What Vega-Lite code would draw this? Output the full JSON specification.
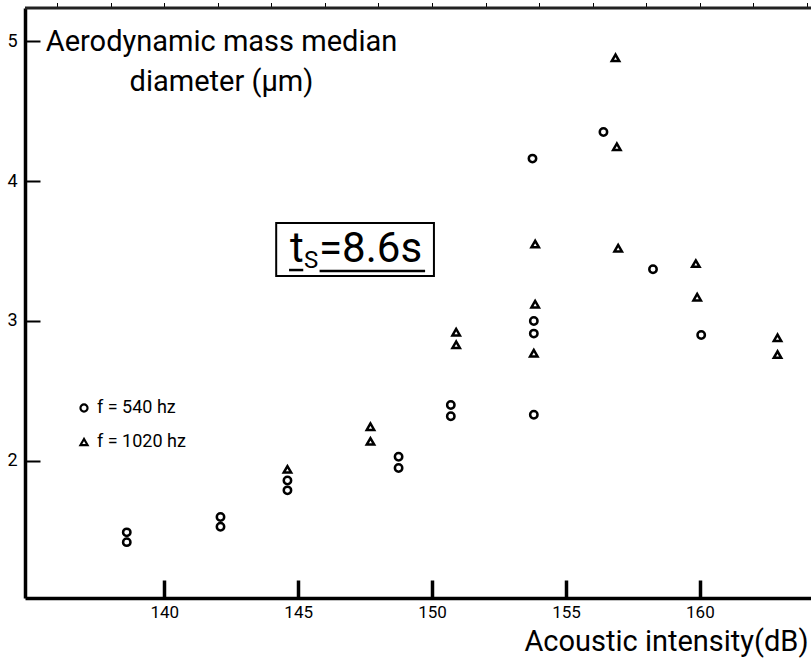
{
  "$schema": "https://vega.github.io/schema/vega-lite/v6.json",
  "autosize": {"type": "none"},
  "padding": {"left": 25, "top": 8, "right": 0, "bottom": 63},
  "width": 786,
  "height": 590,
  "background": "white",
  "view": {"stroke": null},
  "config": {
    "font": "Roboto",
    "axis": {"labelFont": "Roboto", "titleFont": "Roboto", "labelColor": "black", "titleColor": "black", "domainColor": "black", "tickColor": "black", "grid": false, "titleFontWeight": "normal"}
  },
  "resolve": {"axis": {"x": "independent", "y": "independent"}},
  "data": {
    "values": [
      {"intensity": 138.6, "ammd": 1.49, "freq": "f = 540 hz"},
      {"intensity": 138.6, "ammd": 1.42, "freq": "f = 540 hz"},
      {"intensity": 142.1, "ammd": 1.60, "freq": "f = 540 hz"},
      {"intensity": 142.1, "ammd": 1.53, "freq": "f = 540 hz"},
      {"intensity": 144.6, "ammd": 1.86, "freq": "f = 540 hz"},
      {"intensity": 144.6, "ammd": 1.79, "freq": "f = 540 hz"},
      {"intensity": 148.75, "ammd": 2.03, "freq": "f = 540 hz"},
      {"intensity": 148.75, "ammd": 1.95, "freq": "f = 540 hz"},
      {"intensity": 150.7, "ammd": 2.40, "freq": "f = 540 hz"},
      {"intensity": 150.7, "ammd": 2.32, "freq": "f = 540 hz"},
      {"intensity": 153.75, "ammd": 4.16, "freq": "f = 540 hz"},
      {"intensity": 153.8, "ammd": 3.00, "freq": "f = 540 hz"},
      {"intensity": 153.8, "ammd": 2.91, "freq": "f = 540 hz"},
      {"intensity": 153.8, "ammd": 2.33, "freq": "f = 540 hz"},
      {"intensity": 156.4, "ammd": 4.35, "freq": "f = 540 hz"},
      {"intensity": 158.25, "ammd": 3.37, "freq": "f = 540 hz"},
      {"intensity": 160.05, "ammd": 2.90, "freq": "f = 540 hz"},
      {"intensity": 144.6, "ammd": 1.94, "freq": "f = 1020 hz"},
      {"intensity": 147.7, "ammd": 2.245, "freq": "f = 1020 hz"},
      {"intensity": 147.7, "ammd": 2.14, "freq": "f = 1020 hz"},
      {"intensity": 150.9, "ammd": 2.92, "freq": "f = 1020 hz"},
      {"intensity": 150.9, "ammd": 2.83, "freq": "f = 1020 hz"},
      {"intensity": 153.85, "ammd": 3.55, "freq": "f = 1020 hz"},
      {"intensity": 153.85, "ammd": 3.12, "freq": "f = 1020 hz"},
      {"intensity": 153.8, "ammd": 2.77, "freq": "f = 1020 hz"},
      {"intensity": 156.85, "ammd": 4.88, "freq": "f = 1020 hz"},
      {"intensity": 156.9, "ammd": 4.245, "freq": "f = 1020 hz"},
      {"intensity": 156.95, "ammd": 3.52, "freq": "f = 1020 hz"},
      {"intensity": 159.85, "ammd": 3.41, "freq": "f = 1020 hz"},
      {"intensity": 159.9, "ammd": 3.17, "freq": "f = 1020 hz"},
      {"intensity": 162.9, "ammd": 2.88, "freq": "f = 1020 hz"},
      {"intensity": 162.9, "ammd": 2.76, "freq": "f = 1020 hz"}
    ]
  },
  "layer": [
    {
      "mark": {"type": "point", "filled": false, "color": "black", "strokeWidth": 2.5, "size": 55, "opacity": 1},
      "encoding": {
        "x": {
          "field": "intensity", "type": "quantitative",
          "scale": {"domain": [134.8, 164.15], "nice": false, "zero": false},
          "axis": {
            "orient": "bottom",
            "values": [140, 145, 150, 155, 160], "format": "d", "domainWidth": 3.5, "ticks": false,
            "labelPadding": 6, "labelFontSize": 17, "labelFlush": false,
            "title": "Acoustic intensity(dB)", "titleFontSize": 29, "titleAnchor": "end", "titleAlign": "right",
            "titleX": 783, "titleY": 52, "titleBaseline": "alphabetic"
          }
        },
        "y": {
          "field": "ammd", "type": "quantitative",
          "scale": {"domain": [1.021, 5.236], "nice": false, "zero": false},
          "axis": {
            "orient": "left",
            "values": [2, 3, 4, 5], "format": "d", "domainWidth": 3.5, "ticks": false,
            "labelPadding": 8, "labelFontSize": 18, "labelFlush": false,
            "title": ["Aerodynamic mass median", "diameter (μm)"], "titleFontSize": 29, "titleAngle": 0,
            "titleAlign": "center", "titleX": 196, "titleY": 42, "titleBaseline": "alphabetic", "titleLineHeight": 40
          }
        },
        "shape": {
          "field": "freq", "type": "nominal",
          "scale": {"domain": ["f = 540 hz", "f = 1020 hz"], "range": ["circle", "triangle-up"]},
          "legend": {
            "orient": "none", "legendX": 50, "legendY": 391, "title": null,
            "labelFontSize": 18, "labelColor": "black", "labelFont": "Roboto",
            "symbolStrokeColor": "black", "symbolFillColor": "transparent", "symbolStrokeWidth": 2.2, "symbolSize": 50,
            "rowPadding": 16, "labelOffset": 4
          }
        }
      }
    },
    {
      "mark": {"type": "point", "opacity": 0, "aria": false},
      "encoding": {
        "x": {
          "field": "intensity", "type": "quantitative",
          "axis": {
            "orient": "bottom", "aria": false,
            "values": [140, 145, 150, 155, 160], "offset": -18, "domain": false, "labels": false, "ticks": true,
            "tickSize": 18, "tickWidth": 3.5, "title": null
          }
        },
        "y": {
          "field": "ammd", "type": "quantitative",
          "axis": {
            "orient": "left", "aria": false,
            "values": [2, 3, 4, 5], "offset": -15, "domain": false, "labels": false, "ticks": true,
            "tickSize": 15, "tickWidth": 2, "title": null
          }
        }
      }
    },
    {
      "data": {"values": [{}]},
      "mark": {"type": "rule", "color": "#222", "strokeWidth": 3},
      "encoding": {"y": {"datum": 5.236}}
    },
    {
      "data": {"values": [{}]},
      "mark": {"type": "rect", "fill": "transparent", "stroke": "black", "strokeWidth": 2},
      "encoding": {"x": {"datum": 144.18}, "x2": {"datum": 150.07}, "y": {"datum": 3.70}, "y2": {"datum": 3.321}}
    },
    {
      "data": {"values": [{}]},
      "mark": {"type": "text", "align": "left", "baseline": "alphabetic", "fontSize": 42, "color": "black"},
      "encoding": {"x": {"datum": 144.70}, "y": {"datum": 3.42}, "text": {"value": "t"}}
    },
    {
      "data": {"values": [{}]},
      "mark": {"type": "text", "align": "left", "baseline": "alphabetic", "fontSize": 24, "color": "black"},
      "encoding": {"x": {"datum": 145.22}, "y": {"datum": 3.379}, "text": {"value": "S"}}
    },
    {
      "data": {"values": [{}]},
      "mark": {"type": "text", "align": "left", "baseline": "alphabetic", "fontSize": 42, "color": "black"},
      "encoding": {"x": {"datum": 145.78}, "y": {"datum": 3.42}, "text": {"value": "=8.6s"}}
    },
    {
      "data": {"values": [{}]},
      "mark": {"type": "rule", "color": "black", "strokeWidth": 2.5},
      "encoding": {"x": {"datum": 144.66}, "x2": {"datum": 145.19}, "y": {"datum": 3.364}}
    },
    {
      "data": {"values": [{}]},
      "mark": {"type": "rule", "color": "black", "strokeWidth": 2.5},
      "encoding": {"x": {"datum": 145.8}, "x2": {"datum": 149.74}, "y": {"datum": 3.357}}
    }
  ]
}
